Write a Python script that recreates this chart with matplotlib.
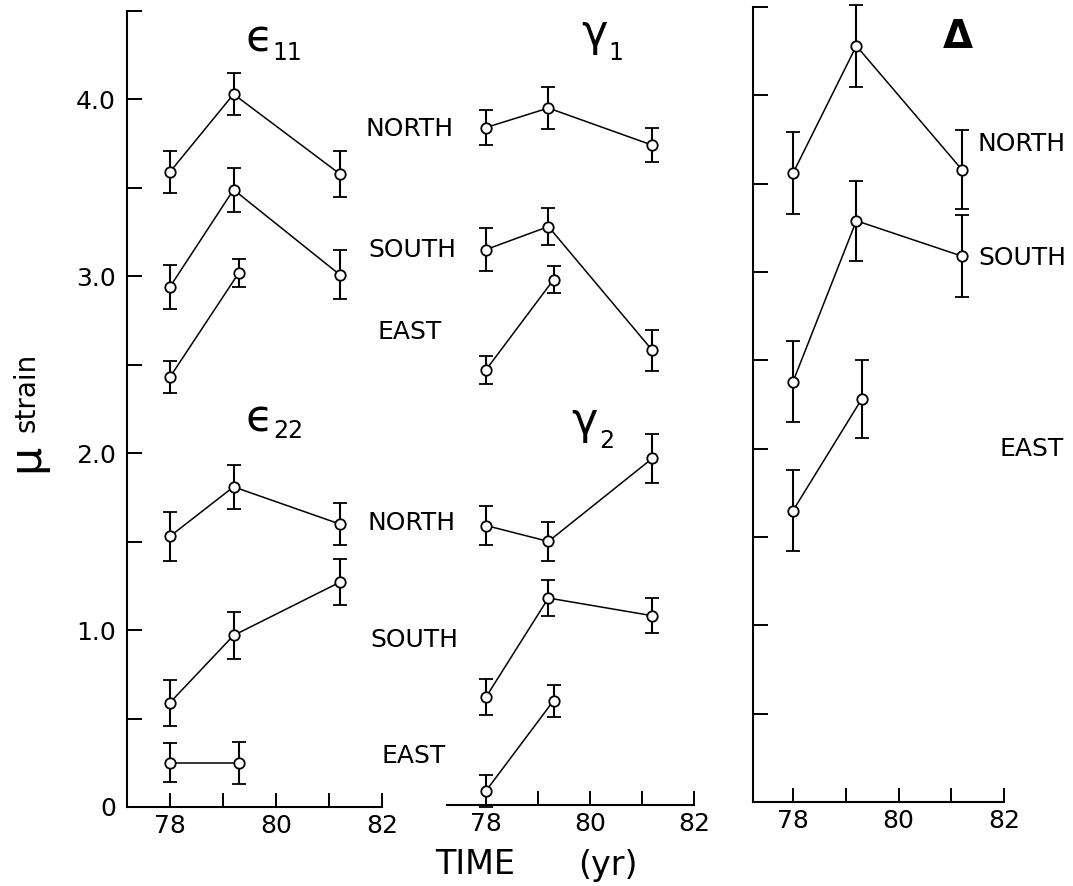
import matplotlib.pyplot as plt
import numpy as np

# years of the survey campaigns
t_ns = [78.0, 79.2, 81.2]
t_east = [78.0, 79.3]

# epsilon_11
e11_north = [3.59, 4.03, 3.58]
e11_north_err = [0.12, 0.12, 0.13]
e11_south = [2.94, 3.49, 3.01]
e11_south_err = [0.125, 0.125, 0.14]
e11_east = [2.43, 3.02]
e11_east_err = [0.09, 0.08]

# epsilon_22
e22_north = [1.53, 1.81, 1.60]
e22_north_err = [0.14, 0.125, 0.12]
e22_south = [0.59, 0.97, 1.27]
e22_south_err = [0.13, 0.135, 0.13]
e22_east = [0.25, 0.25]
e22_east_err = [0.11, 0.12]

# gamma_1
g1_north = [3.83, 3.94, 3.73]
g1_north_err = [0.10, 0.12, 0.095]
g1_south = [3.14, 3.27, 2.57]
g1_south_err = [0.12, 0.105, 0.115]
g1_east = [2.46, 2.97]
g1_east_err = [0.08, 0.075]

# gamma_2
g2_north = [1.58, 1.49, 1.96]
g2_north_err = [0.11, 0.11, 0.14]
g2_south = [0.61, 1.17, 1.07]
g2_south_err = [0.10, 0.10, 0.10]
g2_east = [0.08, 0.59]
g2_east_err = [0.09, 0.09]

# dilatation
d_north = [3.56, 4.28, 3.58]
d_north_err = [0.23, 0.23, 0.225]
d_south = [2.38, 3.29, 3.09]
d_south_err = [0.23, 0.225, 0.23]
d_east = [1.65, 2.28]
d_east_err = [0.23, 0.22]

ytick_labels = ['0', '1.0', '2.0', '3.0', '4.0']
xtick_labels = ['78', '80', '82']

W, H = 1073, 886
plt.rcParams['font.family'] = ['DejaVu Sans']


def fpos(x, y):
    # pixel position -> figure fraction
    return x / W, 1 - y / H


def series(ax, t, v, err):
    ax.errorbar(t, v, yerr=err, fmt='-o', color='black', lw=1.1, elinewidth=1.5,
                capsize=5, capthick=1.5, ms=7.5, mfc='white', mec='black', mew=1.3,
                clip_on=False, zorder=3)


def style(ax, x0, show_left):
    ax.set_xlim(x0, 82)
    ax.set_ylim(0, 4.5)
    ax.spines['top'].set_visible(False)
    ax.spines['right'].set_visible(False)
    ax.spines['left'].set_visible(show_left)
    for s in ['left', 'bottom']:
        ax.spines[s].set_linewidth(1.5)
    ax.set_xticks([78, 80, 82])
    ax.set_xticklabels(xtick_labels, fontsize=18)
    ax.set_xticks([79, 81], minor=True)
    ax.tick_params(axis='x', which='both', direction='in', length=10, width=1.4, pad=5)
    if show_left:
        ax.set_yticks(np.arange(0, 4.51, 0.5))
        ax.tick_params(axis='y', direction='in', length=11, width=1.4, pad=8)
    else:
        ax.set_yticks([])
    ax.patch.set_alpha(0)


def title(sym, sub, x, y, xs, ys):
    # big symbol plus its subscript, both anchored on the baseline
    fig.text(*fpos(x, y), sym, fontsize=32, ha='left', va='baseline')
    fig.text(*fpos(xs, ys), sub, fontsize=17, ha='left', va='baseline')


fig = plt.figure(figsize=(W / 100, H / 100), dpi=100)

ax1 = fig.add_axes([127 / W, 1 - 807 / H, 255 / W, 796 / H])
ax2 = fig.add_axes([447 / W, 1 - 805 / H, 247 / W, 796 / H])
ax3 = fig.add_axes([753 / W, 1 - 802 / H, 251 / W, 795 / H])

style(ax1, 77.19, True)
style(ax2, 77.25, False)
style(ax3, 77.24, True)

labs = [''] * 10
for i, k in enumerate(range(0, 10, 2)):
    labs[k] = ytick_labels[i]
ax1.set_yticklabels(labs, fontsize=18)
ax3.set_yticklabels([])

series(ax1, t_ns, e11_north, e11_north_err)
series(ax1, t_ns, e11_south, e11_south_err)
series(ax1, t_east, e11_east, e11_east_err)
series(ax1, t_ns, e22_north, e22_north_err)
series(ax1, t_ns, e22_south, e22_south_err)
series(ax1, t_east, e22_east, e22_east_err)

series(ax2, t_ns, g1_north, g1_north_err)
series(ax2, t_ns, g1_south, g1_south_err)
series(ax2, t_east, g1_east, g1_east_err)
series(ax2, t_ns, g2_north, g2_north_err)
series(ax2, t_ns, g2_south, g2_south_err)
series(ax2, t_east, g2_east, g2_east_err)

series(ax3, t_ns, d_north, d_north_err)
series(ax3, t_ns, d_south, d_south_err)
series(ax3, t_east, d_east, d_east_err)

# panel titles
title('ϵ', '11', 246, 52, 272, 60)
title('ϵ', '22', 246, 431, 273, 438)
title('γ', '1', 581, 46, 608, 60)
title('γ', '2', 571, 434, 599, 448)
fig.text(*fpos(958, 37), 'Δ', fontsize=28, fontweight='bold', va='center', ha='center')

# station labels
lab_kw = dict(fontsize=18, va='center', ha='center')
fig.text(*fpos(410, 129), 'NORTH', **lab_kw)
fig.text(*fpos(412, 250), 'SOUTH', **lab_kw)
fig.text(*fpos(410, 332), 'EAST', **lab_kw)
fig.text(*fpos(412, 523), 'NORTH', **lab_kw)
fig.text(*fpos(414, 640), 'SOUTH', **lab_kw)
fig.text(*fpos(414, 756), 'EAST', **lab_kw)
fig.text(*fpos(1022, 144), 'NORTH', **lab_kw)
fig.text(*fpos(1022, 258), 'SOUTH', **lab_kw)
fig.text(*fpos(1032, 449), 'EAST', **lab_kw)

# axis titles
fig.text(*fpos(38, 472), 'μ', fontsize=32, rotation=90, rotation_mode='anchor',
         va='baseline', ha='left')
fig.text(*fpos(34, 432), 'strain', fontsize=20, rotation=90, rotation_mode='anchor',
         va='baseline', ha='left')
fig.text(*fpos(475, 865), 'TIME', fontsize=24, va='center', ha='center')
fig.text(*fpos(608, 865), '(yr)', fontsize=24, va='center', ha='center')

fig.savefig('out.png', dpi=100)
